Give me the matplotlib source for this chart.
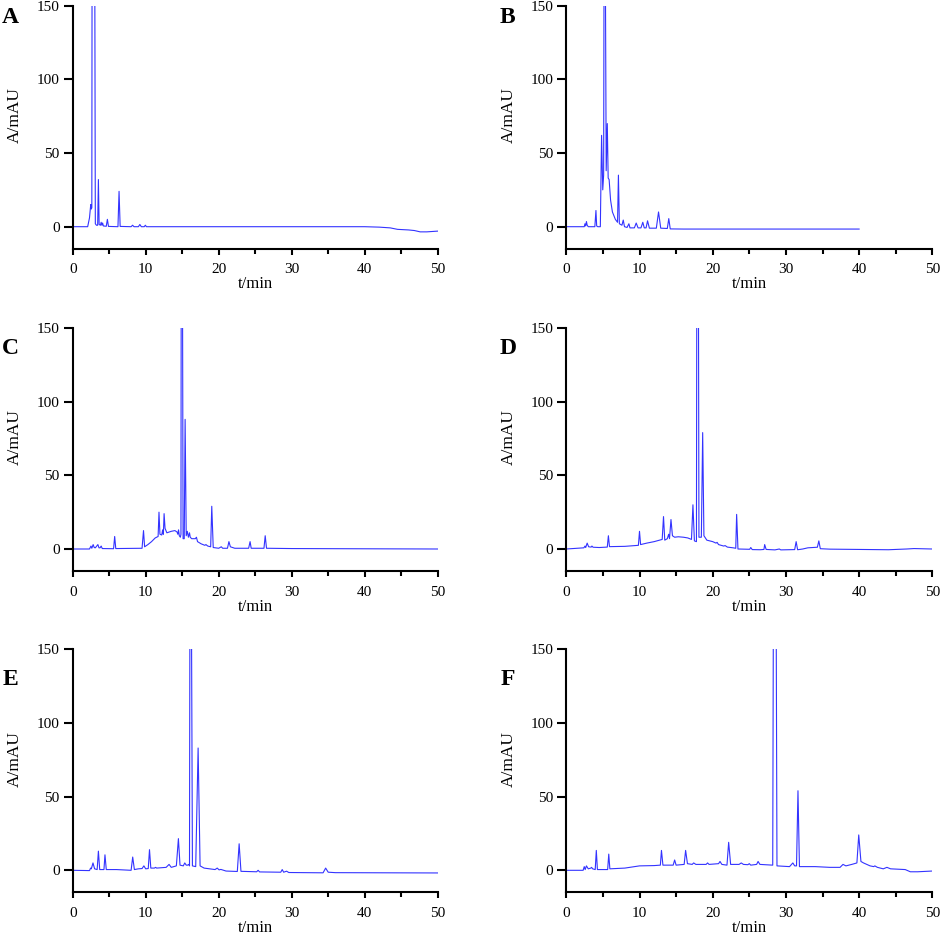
import matplotlib
matplotlib.use("Agg")
import matplotlib.pyplot as plt
import numpy as np
from matplotlib.ticker import MultipleLocator

plt.rcParams['font.family'] = ['Liberation Serif', 'DejaVu Serif']

# chromatogram traces: (t / min, A / mAU)
# peaks going off scale are written with 160 (above the 150 axis limit)
trace_a = [(0, 0), (2.05, 0), (2.3, 6), (2.47, 15), (2.56, 12), (2.62, 13), (2.65, 160),
           (3.03, 160), (3.1, 2), (3.25, 1), (3.42, 1), (3.52, 32), (3.62, 1.5), (3.8, 1),
           (3.9, 3), (4.0, 1), (4.1, 2.5), (4.2, 0.5), (4.6, 0.3), (4.75, 5), (4.9, 0.2),
           (6.2, 0), (6.35, 24), (6.5, 0.2), (8.0, 0), (8.2, 1), (8.4, 0), (9.0, 0),
           (9.2, 1.5), (9.4, 0), (9.8, 0), (9.95, 1), (10.1, 0), (40, 0), (42, -0.3),
           (43.5, -0.8), (44.5, -1.8), (46, -2.2), (46.8, -2.6), (47.6, -3.5), (48.5, -3.5),
           (50, -3)]

trace_b = [(0, 0), (2.45, 0), (2.55, 2), (2.65, 0.5), (2.75, 3.5), (2.85, 1), (3.0, 0),
           (3.9, 0), (4.05, 11), (4.15, 0.5), (4.3, 0), (4.65, 0), (4.82, 62), (4.98, 25),
           (5.1, 35), (5.15, 160), (5.35, 160), (5.45, 38), (5.6, 70), (5.72, 33),
           (5.85, 32), (6.05, 18), (6.3, 10), (6.7, 5), (7.0, 3), (7.12, 35), (7.25, 2),
           (7.6, 1), (7.78, 4.5), (7.95, 0), (8.3, -0.5), (8.55, 2), (8.7, -0.8),
           (9.3, -0.8), (9.55, 2.5), (9.8, -0.8), (10.2, -0.8), (10.45, 3), (10.65, -0.8),
           (10.9, -0.8), (11.1, 4), (11.35, -1), (12.3, -1), (12.6, 10), (12.9, -1),
           (13.8, -1.2), (14.0, 5.5), (14.2, -1.5), (16, -1.6), (40, -1.6)]

trace_c = [(0, 0), (2.3, 0), (2.5, 2), (2.62, 0.5), (2.8, 3), (2.95, 1), (3.1, 0.8),
           (3.45, 3), (3.6, 0.8), (3.75, 0.8), (3.9, 2), (4.05, 0.3), (5.6, 0.2),
           (5.75, 8.5), (5.9, 0.3), (9.5, 0.5), (9.7, 12.5), (9.85, 1.5), (10.3, 3),
           (10.8, 5), (11.3, 7.5), (11.7, 8.5), (11.82, 25), (11.95, 10), (12.2, 9.5),
           (12.32, 13), (12.42, 10), (12.52, 24), (12.65, 14), (12.9, 11), (13.5, 12),
           (14.0, 12.5), (14.3, 11.5), (14.4, 10), (14.5, 13), (14.6, 9), (14.75, 8),
           (14.83, 10), (14.86, 160), (15.05, 160), (15.12, 7), (15.28, 7), (15.4, 88),
           (15.55, 9), (15.7, 12), (15.85, 8), (16.0, 11), (16.1, 8), (16.3, 7), (16.8, 7),
           (16.95, 8), (17.1, 5), (17.6, 3.5), (18.1, 2.5), (18.25, 3), (18.5, 2),
           (18.9, 1.5), (19.05, 29), (19.25, 1), (20.0, 0.5), (20.35, 1.5), (20.55, 0.5),
           (21.2, 0.5), (21.4, 5), (21.6, 1.5), (22.2, 0.5), (24.1, 0.5), (24.3, 5),
           (24.45, 0.5), (26.2, 0.5), (26.37, 9), (26.55, 0.5), (30, 0.3), (50, 0)]

trace_d = [(0, 0), (2.4, 0.8), (2.55, 2), (2.65, 1), (2.85, 4), (3.05, 1.5), (3.4, 1.3),
           (3.5, 2), (3.65, 1.2), (4.5, 1), (5.6, 1.3), (5.75, 9), (5.9, 1.6), (8, 1.8),
           (9.85, 2.5), (10.0, 12), (10.15, 3), (11, 4), (12, 5), (13.1, 6.5), (13.28, 22),
           (13.45, 6), (13.8, 7), (13.98, 10), (14.1, 7), (14.3, 20), (14.5, 9), (14.8, 8),
           (15.3, 8.3), (16, 8), (16.6, 7.5), (17.1, 6.5), (17.3, 30), (17.5, 5.5),
           (17.78, 5), (17.82, 160), (18.06, 160), (18.12, 8), (18.45, 8), (18.63, 79),
           (18.8, 9), (19.2, 6), (20, 5), (20.45, 4), (20.6, 4.5), (20.8, 3), (21.5, 2),
           (21.7, 2.3), (22, 1.3), (22.8, 0.8), (23.15, 0.5), (23.27, 23.5), (23.45, 0),
           (25.05, -0.2), (25.2, 1), (25.4, -0.4), (26.5, -0.5), (27.0, -0.3), (27.1, 3),
           (27.3, -0.3), (28.5, -0.6), (29.1, 0), (29.3, -0.6), (31.2, -0.4), (31.4, 5),
           (31.6, -0.5), (32.3, 0), (33, 0.8), (34.3, 1.2), (34.5, 5.5), (34.7, 0.2),
           (36, -0.1), (40, -0.3), (44, -0.5), (46.5, 0), (47.5, 0.3), (50, 0)]

trace_e = [(0, 0), (2.3, -0.2), (2.45, 1.5), (2.55, 1), (2.78, 5), (3.0, 1), (3.35, 0.5),
           (3.52, 13), (3.7, 0.5), (4.28, 0.5), (4.42, 10.5), (4.6, 0.5), (6, 0.5),
           (8.0, 0), (8.22, 9), (8.45, 0.5), (9.0, 1), (9.5, 1.2), (9.75, 3), (10.0, 1),
           (10.35, 1.2), (10.52, 14), (10.7, 1.5), (11.2, 1.5), (11.35, 2), (11.5, 1.5),
           (12.8, 2), (13.2, 4), (13.5, 2), (14.2, 3), (14.48, 21.5), (14.7, 3.5),
           (15.15, 3), (15.35, 5), (15.55, 3.5), (15.75, 3.5), (15.9, 4), (16.0, 3),
           (16.05, 160), (16.28, 160), (16.4, 3), (16.85, 2.5), (17.18, 83), (17.45, 3),
           (18, 1.5), (19.5, 0.5), (19.8, 1.5), (20.05, 0.3), (20.3, 0.6), (21, -0.5),
           (22.55, -0.8), (22.8, 18), (23.05, -0.7), (25.2, -1), (25.4, 0), (25.6, -1.1),
           (28.5, -1.3), (28.7, 0.5), (28.9, -1.3), (29.3, -0.6), (29.6, -1.5),
           (34.3, -1.7), (34.65, 1.5), (35, -1.3), (36, -1.6), (50, -1.8)]

trace_f = [(0, 0), (2.3, 0), (2.45, 2.5), (2.58, 0.5), (2.75, 3), (3.0, 1), (3.35, 1.5),
           (3.45, 2), (3.6, 1), (3.95, 0.5), (4.1, 13.5), (4.25, 0.5), (5.65, 0.5),
           (5.8, 11), (5.95, 1), (8, 1.5), (10, 3), (12, 3.2), (12.85, 3.5), (13.0, 13.5),
           (13.2, 3.5), (14.6, 3.5), (14.8, 7), (15.0, 3.5), (16.1, 4), (16.3, 13.5),
           (16.55, 4.5), (17.2, 4), (17.4, 5), (17.7, 4), (19.1, 4), (19.3, 5), (19.5, 4),
           (20.8, 4.5), (21.0, 6), (21.25, 4), (21.95, 3.5), (22.18, 19), (22.45, 4),
           (23.6, 4), (23.9, 5), (24.2, 4), (24.8, 3.8), (25.0, 4.5), (25.2, 3.5),
           (26.0, 4), (26.2, 6), (26.45, 4), (28.2, 3.5), (28.28, 160), (28.68, 160),
           (28.78, 3), (30.5, 2.5), (30.95, 5), (31.2, 3), (31.45, 3), (31.65, 54),
           (31.85, 2.5), (34, 2.5), (36, 2), (37.4, 2), (37.8, 4), (38.2, 3), (39, 4),
           (39.7, 5), (39.95, 24), (40.25, 6), (40.6, 5), (41.5, 3), (42.0, 2.5),
           (42.15, 3), (42.5, 2), (43.3, 1), (43.8, 2), (44.3, 1), (46.3, 0.5), (47, -1),
           (48, -1), (50, -0.5)]

panel_labels = ['A', 'B', 'C', 'D', 'E', 'F']
traces = [trace_a, trace_b, trace_c, trace_d, trace_e, trace_f]
x_ticks = [0, 10, 20, 30, 40, 50]
y_ticks = [0, 50, 100, 150]

line_color = '#3333ff'

fig = plt.figure(figsize=(9.41, 9.36), dpi=100)

lefts = [72.7 / 941, 566.3 / 941]
widths = [365 / 941, 366 / 941]
bottoms = [1 - 248.8 / 936, 1 - 571.1 / 936, 1 - 892.4 / 936]
height = 243.1 / 936
# panel letter positions (px from left, baseline px from top)
letter_pos = [(2, 23.3), (500, 22.7), (2, 354), (500, 354), (2.7, 685), (500.7, 685)]

for i, (label, trace) in enumerate(zip(panel_labels, traces)):
    row, col = divmod(i, 2)
    ax = fig.add_axes([lefts[col], bottoms[row], widths[col], height])
    t, a = np.array(trace).T
    ax.plot(t, a, color=line_color, lw=0.8)

    ax.set_xlim(0, 50)
    ax.set_ylim(-15, 150)
    ax.set_xticks(x_ticks)
    ax.xaxis.set_minor_locator(MultipleLocator(5))
    ax.set_yticks(y_ticks)

    ax.spines['top'].set_visible(False)
    ax.spines['right'].set_visible(False)
    ax.spines['left'].set_linewidth(1.5)
    ax.spines['bottom'].set_linewidth(1.5)
    ax.tick_params(axis='x', which='major', length=4, width=1.5, pad=6.5, labelsize=11)
    ax.tick_params(axis='x', which='minor', length=3.5, width=1.5)
    ax.tick_params(axis='y', which='major', length=6.5, width=1.5, pad=3, labelsize=11)

    ax.text(0.5, -0.163, 't/min', transform=ax.transAxes, ha='center',
            va='baseline', fontsize=12)
    ax.text(-0.158, 0.55, 'A/mAU', transform=ax.transAxes, ha='center',
            va='center', rotation=90, fontsize=12.5)

    lx, ly = letter_pos[i]
    fig.text(lx / 941, 1 - ly / 936, label, ha='left', va='baseline',
             fontsize=17, fontweight='bold')

fig.savefig('out.png', dpi=100)
